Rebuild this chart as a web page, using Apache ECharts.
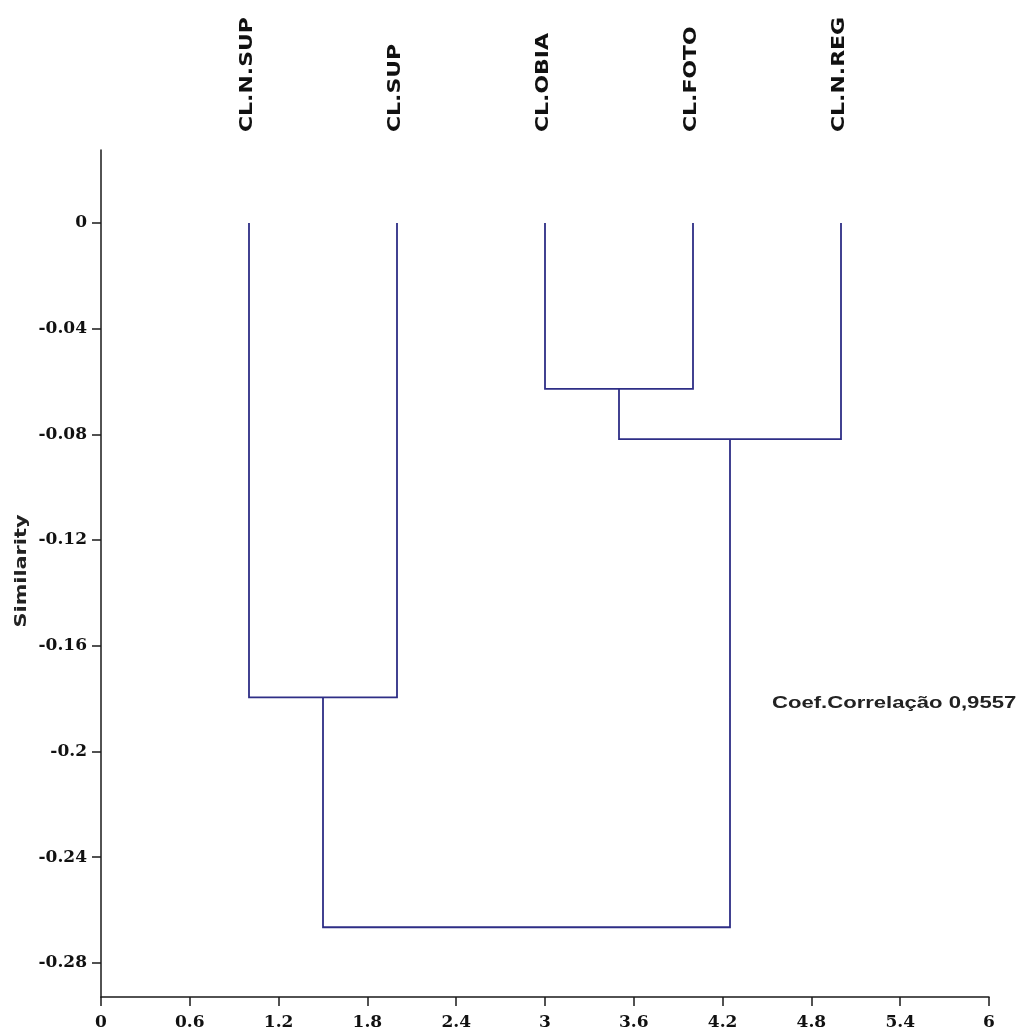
<!DOCTYPE html>
<html>
<head>
<meta charset="utf-8">
<script src="https://cdn.jsdelivr.net/npm/echarts@6/dist/echarts.min.js"></script>
<style>html,body{margin:0;padding:0;background:#fff}#c{width:1022px;height:1036px}</style>
</head>
<body>
<div id="c"></div>
<script>
// ---- data ----
var leafNames = ['CL.N.SUP', 'CL.SUP', 'CL.OBIA', 'CL.FOTO', 'CL.N.REG'];
var leafPositions = [1, 2, 3, 4, 5];
// merges: [clusterA, clusterB] (leaf indices 0..4, new clusters 5..)
var mergePairs = [[2, 3], [5, 4], [0, 1], [6, 7]];
var mergeHeights = [-0.0628, -0.0818, -0.1795, -0.2665];
var xTicks = [0, 0.6, 1.2, 1.8, 2.4, 3, 3.6, 4.2, 4.8, 5.4, 6];
var yTicks = [0, -0.04, -0.08, -0.12, -0.16, -0.2, -0.24, -0.28];
var yName = 'Similarity';
var note = 'Coef.Correlação 0,9557';

// ---- build cluster geometry from data ----
var clX = leafPositions.slice();
var clY = leafPositions.map(function () { return 0; });
var links = [];
mergePairs.forEach(function (p, i) {
  var a = p[0], b = p[1], h = mergeHeights[i];
  links.push([clX[a], clY[a], clX[b], clY[b], h]);
  clX.push((clX[a] + clX[b]) / 2);
  clY.push(h);
});

var yMin = -0.2929, yMax = 0.0276;
var chart = echarts.init(document.getElementById('c'), null, {renderer: 'canvas'});
var tickFont = 'DejaVu Serif';
function fmt(v) { return String(Math.round(v * 100) / 100); }
chart.setOption({
  animation: false,
  backgroundColor: '#ffffff',
  grid: {left: 101, right: 33, top: 150, bottom: 39, containLabel: false},
  xAxis: {
    type: 'value', min: 0, max: 6,
    axisLine: {show: true, onZero: false, lineStyle: {color: '#1a1a1a', width: 1.5}},
    axisTick: {show: true, length: 9, customValues: xTicks, lineStyle: {color: '#1a1a1a', width: 1.5}},
    splitLine: {show: false},
    axisLabel: {
      customValues: xTicks, margin: 17, color: '#111', fontFamily: tickFont, fontWeight: 'bold', fontSize: 17,
      formatter: fmt
    }
  },
  yAxis: {
    type: 'value', min: yMin, max: yMax,
    axisLine: {show: true, onZero: false, lineStyle: {color: '#1a1a1a', width: 1.5}},
    axisTick: {show: true, length: 9, customValues: yTicks, lineStyle: {color: '#1a1a1a', width: 1.5}},
    splitLine: {show: false},
    axisLabel: {
      customValues: yTicks, margin: 14, color: '#111', fontFamily: tickFont, fontWeight: 'bold', fontSize: 17,
      formatter: fmt
    }
  },
  graphic: [
    {type: 'text', x: 22, y: 571, rotation: Math.PI / 2, scaleX: 1.3,
     style: {text: yName, font: 'bold 16px "DejaVu Sans"', fill: '#222', align: 'center', verticalAlign: 'middle'}},
    {type: 'text', x: 772, y: 704, scaleX: 1.38,
     style: {text: note, font: 'bold 16px "Liberation Sans"', fill: '#222', align: 'left', verticalAlign: 'middle'}}
  ],
  series: [
    {
      type: 'custom',
      data: links,
      renderItem: function (params, api) {
        var lx = api.value(0), ly = api.value(1), rx = api.value(2), ry = api.value(3), h = api.value(4);
        var pts = [api.coord([lx, ly]), api.coord([lx, h]), api.coord([rx, h]), api.coord([rx, ry])];
        return {type: 'polyline', shape: {points: pts},
                style: {stroke: '#2e2e86', lineWidth: 1.8, fill: null}};
      }
    },
    {
      type: 'custom',
      data: leafPositions.map(function (x, i) { return [x, i]; }),
      renderItem: function (params, api) {
        var p = api.coord([api.value(0), yMax]);
        var name = leafNames[api.value(1)];
        return {type: 'text', x: p[0] - 2, y: p[1] - 18, rotation: Math.PI / 2, scaleX: 1.22,
                style: {text: name, font: 'bold 18px "DejaVu Sans"', fill: '#111',
                        align: 'left', verticalAlign: 'middle'}};
      }
    }
  ]
});
</script>
</body>
</html>
